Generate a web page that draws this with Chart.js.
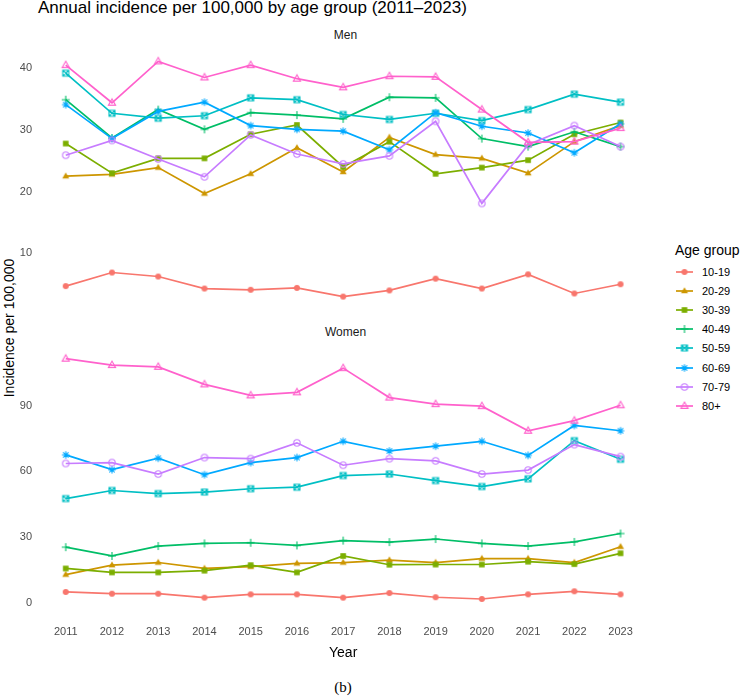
<!DOCTYPE html>
<html>
<head>
<meta charset="utf-8">
<script src="https://cdn.jsdelivr.net/npm/chart.js@4.4.0/dist/chart.umd.min.js"></script>
<style>
  body { margin: 0; width: 742px; height: 697px; background: #fff; position: relative; overflow: hidden;
         font-family: "Liberation Sans", Arial, sans-serif; }
  .abs { position: absolute; white-space: nowrap; }
  #title { left: 38px; top: -2px; font-size: 17px; line-height: 20px; color: #000; }
  .strip { left: 38px; width: 615px; text-align: center; font-size: 12px; line-height: 14px; color: #1a1a1a; }
  #ytitle { left: 9px; top: 328px; font-size: 14px; line-height: 16px; color: #000;
            transform: translate(-50%, -50%) rotate(-90deg); }
  #legTitle { left: 675px; top: 242px; font-size: 14px; line-height: 16px; color: #000; }
  .legLabel { left: 702px; font-size: 11px; line-height: 12px; color: #000; }
  #caption { left: 0; width: 686px; top: 678px; text-align: center; font-family: "Liberation Serif", "Times New Roman", serif;
             font-size: 15px; line-height: 18px; color: #000; }
</style>
</head>
<body>
<div id="title" class="abs">Annual incidence per 100,000 by age group (2011–2023)</div>
<div class="abs strip" style="top:28px">Men</div>
<div class="abs strip" style="top:325px">Women</div>
<div id="ytitle" class="abs">Incidence per 100,000</div>
<canvas id="menChart" class="abs" style="left:0;top:45px" width="653" height="268"></canvas>
<canvas id="womenChart" class="abs" style="left:0;top:342px" width="653" height="325"></canvas>
<div id="legTitle" class="abs">Age group</div>
<div id="legend"></div>
<div id="caption" class="abs">(b)</div>

<script>
// data
var years = [2011, 2012, 2013, 2014, 2015, 2016, 2017, 2018, 2019, 2020, 2021, 2022, 2023];
var ageGroups = ['10-19', '20-29', '30-39', '40-49', '50-59', '60-69', '70-79', '80+'];

var men_10_19 = [4.7, 6.9, 6.25, 4.3, 4.1, 4.4, 3.0, 4.0, 5.9, 4.3, 6.6, 3.5, 5.0];
var men_20_29 = [22.5, 22.8, 23.9, 19.7, 22.9, 27.1, 23.2, 28.8, 26.0, 25.4, 23.0, 28.1, 30.7];
var men_30_39 = [27.8, 23.0, 25.4, 25.4, 29.3, 30.8, 24.0, 28.1, 22.9, 23.9, 25.1, 29.3, 31.2];
var men_40_49 = [34.9, 28.7, 33.3, 30.1, 32.8, 32.4, 31.8, 35.3, 35.2, 28.6, 27.3, 29.7, 27.3];
var men_50_59 = [39.2, 32.7, 31.9, 32.3, 35.2, 34.9, 32.5, 31.7, 32.7, 31.5, 33.3, 35.8, 34.5];
var men_60_69 = [34.1, 28.6, 33.0, 34.5, 30.7, 30.1, 29.8, 26.8, 32.8, 30.6, 29.5, 26.3, 31.0];
var men_70_79 = [25.9, 28.3, 25.3, 22.4, 29.2, 26.1, 24.5, 25.8, 31.4, 18.1, 27.6, 30.7, 27.3];
var men_80plus = [40.5, 34.4, 41.1, 38.5, 40.5, 38.3, 36.9, 38.7, 38.6, 33.3, 28.0, 28.1, 30.3];

var women_10_19 = [5.1, 4.3, 4.3, 2.5, 4.0, 4.0, 2.5, 4.6, 2.7, 1.9, 4.0, 5.4, 4.0];
var women_20_29 = [13.0, 17.3, 18.5, 15.8, 16.6, 18.1, 18.5, 19.6, 18.5, 20.3, 20.3, 18.5, 25.7];
var women_30_39 = [15.8, 14.0, 14.0, 14.8, 17.3, 14.0, 21.5, 17.5, 17.6, 17.6, 18.9, 17.8, 22.7];
var women_40_49 = [25.5, 21.5, 26.0, 27.2, 27.5, 26.3, 28.5, 27.8, 29.2, 27.2, 26.0, 27.9, 31.7];
var women_50_59 = [47.6, 51.3, 49.9, 50.6, 52.1, 52.8, 58.1, 58.8, 55.8, 53.1, 56.6, 74.0, 65.5];
var women_60_69 = [67.5, 60.8, 66.0, 58.5, 64.0, 66.3, 73.7, 69.3, 71.5, 73.7, 67.3, 80.9, 78.5];
var women_70_79 = [63.6, 64.0, 58.8, 66.3, 65.8, 73.0, 62.8, 65.8, 64.8, 58.8, 60.6, 72.2, 66.7];
var women_80plus = [111.3, 108.4, 107.6, 99.6, 94.6, 96.0, 107.0, 93.6, 90.6, 89.7, 78.5, 83.1, 90.1];

var menTicks = [10, 20, 30, 40];
var womenTicks = [0, 30, 60, 90];

var menSeries = [men_10_19, men_20_29, men_30_39, men_40_49, men_50_59, men_60_69, men_70_79, men_80plus];
var womenSeries = [women_10_19, women_20_29, women_30_39, women_40_49, women_50_59, women_60_69, women_70_79, women_80plus];

// ggplot hue palette + shapes
var palette = ['#F8766D', '#CD9600', '#7CAE00', '#00BE67', '#00BFC4', '#00A9FF', '#C77CFF', '#FF61CC'];
var shapes = ['dot', 'tri', 'square', 'plus', 'sqcross', 'star', 'ring', 'opentri'];

function makeMarker(shape, color) {
  var c = document.createElement('canvas');
  c.width = 12; c.height = 12;
  var g = c.getContext('2d');
  g.translate(6, 6);
  g.strokeStyle = color;
  g.fillStyle = color;
  g.lineWidth = 1.1;
  g.beginPath();
  if (shape === 'dot') {
    g.arc(0, 0, 3, 0, Math.PI * 2); g.fill();
  } else if (shape === 'tri') {
    g.moveTo(0, -3.8); g.lineTo(3.5, 2.3); g.lineTo(-3.5, 2.3); g.closePath(); g.fill();
  } else if (shape === 'square') {
    g.fillRect(-2.8, -2.8, 5.6, 5.6);
  } else if (shape === 'plus') {
    g.moveTo(-4, 0); g.lineTo(4, 0); g.moveTo(0, -4); g.lineTo(0, 4); g.stroke();
  } else if (shape === 'sqcross') {
    g.rect(-3, -3, 6, 6); g.moveTo(-3, -3); g.lineTo(3, 3); g.moveTo(3, -3); g.lineTo(-3, 3); g.stroke();
  } else if (shape === 'star') {
    for (var k = 0; k < 4; k++) {
      var a = k * Math.PI / 4;
      g.moveTo(-3.8 * Math.cos(a), -3.8 * Math.sin(a));
      g.lineTo(3.8 * Math.cos(a), 3.8 * Math.sin(a));
    }
    g.stroke();
  } else if (shape === 'ring') {
    g.arc(0, 0, 3.2, 0, Math.PI * 2); g.stroke();
  } else if (shape === 'opentri') {
    g.moveTo(0, -3.9); g.lineTo(3.6, 2.4); g.lineTo(-3.6, 2.4); g.closePath(); g.stroke();
  }
  return c;
}

var markers = shapes.map(function(s, i) { return makeMarker(s, palette[i]); });

Chart.defaults.font.family = '"Liberation Sans", Arial, sans-serif';

function buildDatasets(series) {
  return ageGroups.map(function(group, i) {
    return {
      label: group,
      data: years.map(function(yr, j) { return { x: yr, y: series[i][j] }; }),
      borderColor: palette[i],
      backgroundColor: palette[i],
      borderWidth: 1.7,
      pointStyle: markers[i],
      pointRadius: 3,
      pointHoverRadius: 3,
      tension: 0,
      order: ageGroups.length - i
    };
  });
}

function panelOptions(yMin, yMax, yTicks, showX) {
  return {
    animation: false,
    responsive: false,
    maintainAspectRatio: false,
    layout: { padding: 0 },
    plugins: { legend: { display: false }, tooltip: { enabled: false } },
    scales: {
      x: {
        type: 'linear',
        min: 2010.4,
        max: 2023.6,
        display: showX,
        grid: { display: false, drawTicks: false },
        border: { display: false },
        ticks: {
          padding: 14,
          color: '#4d4d4d',
          font: { size: 11 },
          maxRotation: 0,
          autoSkip: false,
          callback: function(v) { return String(v); }
        },
        title: { display: true, text: 'Year', color: '#000', font: { size: 14 }, padding: { top: 0, bottom: 5 } },
        afterBuildTicks: function(s) { s.ticks = years.map(function(v) { return { value: v }; }); },
        afterFit: function(s) {
          // hidden axis on the top panel must take no room
          s.height = showX ? 56 : 0;
          s.paddingLeft = 0;
          s.paddingRight = 0;
        }
      },
      y: {
        min: yMin,
        max: yMax,
        grid: { display: false, drawTicks: false },
        border: { display: false },
        ticks: { padding: 6, color: '#4d4d4d', font: { size: 11 } },
        afterBuildTicks: function(s) { s.ticks = yTicks.map(function(v) { return { value: v }; }); },
        afterFit: function(s) { s.width = 38; s.paddingTop = 0; s.paddingBottom = 0; }
      }
    }
  };
}

new Chart(document.getElementById('menChart').getContext('2d'), {
  type: 'line',
  data: { datasets: buildDatasets(menSeries) },
  options: panelOptions(1.1, 43.0, menTicks, false)
});

new Chart(document.getElementById('womenChart').getContext('2d'), {
  type: 'line',
  data: { datasets: buildDatasets(womenSeries) },
  options: panelOptions(-3.57, 116.77, womenTicks, true)
});

// legend: line + marker keys
var legend = document.getElementById('legend');
ageGroups.forEach(function(group, i) {
  var cy = 272 + 19.1 * i;
  var key = document.createElement('canvas');
  key.width = 17; key.height = 12;
  key.className = 'abs';
  key.style.left = '676px';
  key.style.top = (cy - 6) + 'px';
  var g = key.getContext('2d');
  g.strokeStyle = palette[i];
  g.lineWidth = 1.7;
  g.beginPath(); g.moveTo(0, 6); g.lineTo(17, 6); g.stroke();
  g.drawImage(markers[i], 2.5, 0);
  legend.appendChild(key);

  var lab = document.createElement('div');
  lab.className = 'abs legLabel';
  lab.style.top = (cy - 6) + 'px';
  lab.textContent = group;
  legend.appendChild(lab);
});
</script>
</body>
</html>
